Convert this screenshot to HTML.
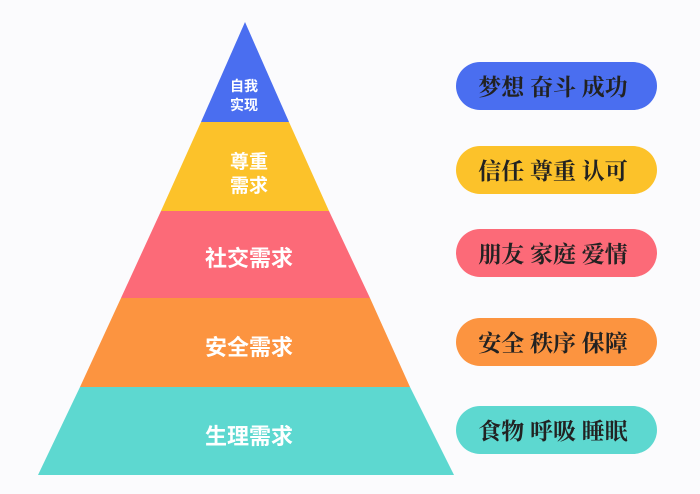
<!DOCTYPE html>
<html><head><meta charset="utf-8"><style>
body{margin:0;background:#fbfbfd;width:700px;height:494px;overflow:hidden;}
svg{display:block}
.pl{font-family:"Liberation Sans","Noto Sans CJK SC",sans-serif;font-weight:bold;fill:#fff;text-anchor:middle}
.pr{font-family:"Liberation Serif","Noto Serif CJK SC",serif;font-weight:bold;fill:#222;font-size:23px;text-anchor:middle}
</style></head><body>
<svg width="700" height="494" viewBox="0 0 700 494">
<rect width="700" height="494" fill="#fbfbfd"/>
<polygon points="245,22 289,122 201,122" fill="#4a6ef0"/>
<polygon points="201,122 289,122 329,211 161,211" fill="#fcc22a"/>
<polygon points="161,211 329,211 370,298 121,298" fill="#fc6a78"/>
<polygon points="121,298 370,298 410,387 80,387" fill="#fc9440"/>
<polygon points="80,387 410,387 454,475 38,475" fill="#5dd8d0"/>
<text class="pl" x="244" y="91" font-size="14">自我</text>
<text class="pl" x="244" y="110" font-size="14">实现</text>
<text class="pl" x="249" y="168" font-size="19">尊重</text>
<text class="pl" x="249" y="192" font-size="19">需求</text>
<text class="pl" x="249" y="266" font-size="22">社交需求</text>
<text class="pl" x="249" y="355" font-size="22">安全需求</text>
<text class="pl" x="249" y="444" font-size="22">生理需求</text>
<rect x="456" y="62" width="201" height="48" rx="24" fill="#4a6ef0"/>
<rect x="456" y="146" width="201" height="48" rx="24" fill="#fcc22a"/>
<rect x="456" y="229" width="201" height="48" rx="24" fill="#fc6a78"/>
<rect x="456" y="318" width="201" height="48" rx="24" fill="#fc9440"/>
<rect x="456" y="406" width="201" height="48" rx="24" fill="#5dd8d0"/>
<text class="pr" x="553" y="95">梦想 奋斗 成功</text>
<text class="pr" x="553" y="179">信任 尊重 认可</text>
<text class="pr" x="553" y="262">朋友 家庭 爱情</text>
<text class="pr" x="553" y="351">安全 秩序 保障</text>
<text class="pr" x="553" y="439">食物 呼吸 睡眠</text>
</svg>
</body></html>
